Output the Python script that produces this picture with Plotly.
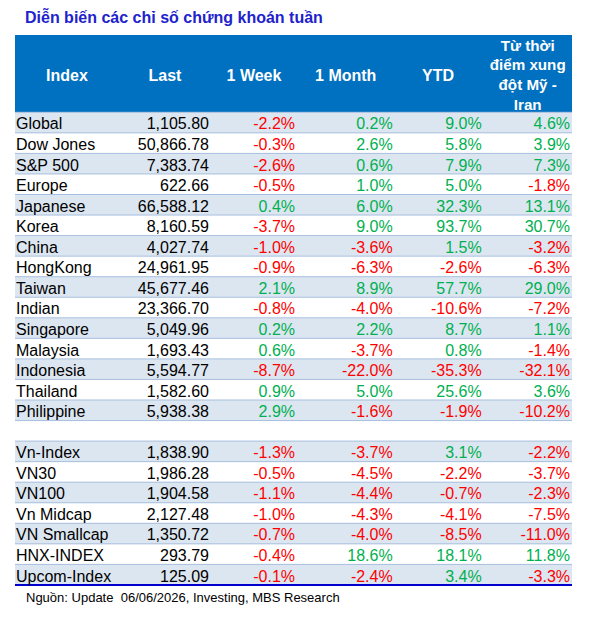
import plotly.graph_objects as go

# ---------------- data ----------------
index_names = ["Global", "Dow Jones", "S&P 500", "Europe", "Japanese", "Korea", "China",
               "HongKong", "Taiwan", "Indian", "Singapore", "Malaysia", "Indonesia",
               "Thailand", "Philippine", "",
               "Vn-Index", "VN30", "VN100", "Vn Midcap", "VN Smallcap", "HNX-INDEX",
               "Upcom-Index"]
last_values = [1105.80, 50866.78, 7383.74, 622.66, 66588.12, 8160.59, 4027.74,
               24961.95, 45677.46, 23366.70, 5049.96, 1693.43, 5594.77,
               1582.60, 5938.38, None,
               1838.90, 1986.28, 1904.58, 2127.48, 1350.72, 293.79, 125.09]
week_pct = [-2.2, -0.3, -2.6, -0.5, 0.4, -3.7, -1.0, -0.9, 2.1, -0.8, 0.2, 0.6, -8.7,
            0.9, 2.9, None,
            -1.3, -0.5, -1.1, -1.0, -0.7, -0.4, -0.1]
month_pct = [0.2, 2.6, 0.6, 1.0, 6.0, 9.0, -3.6, -6.3, 8.9, -4.0, 2.2, -3.7, -22.0,
             5.0, -1.6, None,
             -3.7, -4.5, -4.4, -4.3, -4.0, 18.6, -2.4]
ytd_pct = [9.0, 5.8, 7.9, 5.0, 32.3, 93.7, 1.5, -2.6, 57.7, -10.6, 8.7, 0.8, -35.3,
           25.6, -1.9, None,
           3.1, -2.2, -0.7, -4.1, -8.5, 18.1, 3.4]
conflict_pct = [4.6, 3.9, 7.3, -1.8, 13.1, 30.7, -3.2, -6.3, 29.0, -7.2, 1.1, -1.4, -32.1,
                3.6, -10.2, None,
                -2.2, -3.7, -2.3, -7.5, -11.0, 11.8, -3.3]
headers = ["Index", "Last", "1 Week", "1 Month", "YTD",
           "Từ thời<br>điểm xung<br>đột Mỹ -<br>Iran"]

# ---------------- style / layout constants ----------------
PAGE_W, PAGE_H = 592, 620
OFFSET = 8                           # browser default body margin
W, H = PAGE_W - 2 * OFFSET, PAGE_H - 2 * OFFSET
FONT = "Liberation Sans, Arial, sans-serif"
HEADER_BG = "#0070C0"
STRIPE = "#DCE6F1"
SEP = "#A7BFDE"
RED = "#FF0000"
GREEN = "#00B050"
TABLE_L, TABLE_R = 15, 572          # table left / right edge (page px on the x axis)
TEXT_LEFT = 16                      # left edge of the Index column text
COL_RIGHT = [209, 295, 392.7, 481.7, 570]   # right edge of the numeric column texts
HEAD_CENTER = [67, 165, 254, 345.7, 438, 527.7]
ROW_PX = 20.55                      # one row, in pixels
BODY_TOP_PX = 112.3                 # first body row top, in page pixels
HEADER_TOP_PX = 35
TEXT_DY = 0.64                      # text anchor inside a row (fraction of a row)

n = len(index_names)
header_rows = (BODY_TOP_PX - HEADER_TOP_PX) / ROW_PX
y_top = (OFFSET - BODY_TOP_PX) / ROW_PX
y_bottom = (OFFSET + H - BODY_TOP_PX) / ROW_PX


def fmt_pct(v):
    return "" if v is None else f"{v:.1f}%"


def pct_color(v):
    if v is None:
        return "black"
    return RED if v < 0 else GREEN


fig = go.Figure()

# ---- backgrounds: header band + striped rows as a heatmap of bricks ----
row_kind = [1 if i % 2 == 0 else 0 for i in range(n)]
z = [[2]] + [[k] for k in row_kind]
y_edges = [-header_rows] + list(range(n + 1))
fig.add_trace(go.Heatmap(
    z=z, x=[TABLE_L, TABLE_R], y=y_edges,
    zmin=0, zmax=2,
    colorscale=[[0, "white"], [0.5 - 1e-9, "white"], [0.5, STRIPE], [0.75, STRIPE],
                [0.75 + 1e-9, HEADER_BG], [1, HEADER_BG]],
    showscale=False, hoverinfo="skip", xgap=0, ygap=0,
))

# ---- row separators ----
sep_x, sep_y = [], []
for k in range(n):
    sep_x += [TABLE_L, TABLE_R, None]
    sep_y += [k, k, None]
fig.add_trace(go.Scatter(x=sep_x, y=sep_y, mode="lines",
                         line=dict(color=SEP, width=1), hoverinfo="skip"))
fig.add_trace(go.Scatter(x=[TABLE_L, TABLE_R], y=[n, n], mode="lines",
                         line=dict(color="#0000CC", width=2), hoverinfo="skip"))

# ---- header text ----
head_sizes = [16, 16, 16, 16, 16, 15.2]
fig.add_trace(go.Scatter(
    x=HEAD_CENTER, y=[-header_rows / 2 + 0.14] * 6, mode="text",
    text=[f"<b>{h}</b>" for h in headers], textposition="middle center",
    textfont=dict(family=FONT, size=head_sizes, color="white"), hoverinfo="skip",
))

# ---- body text ----
rows_y = [i + TEXT_DY for i in range(n)]
fig.add_trace(go.Scatter(
    x=[TEXT_LEFT] * n, y=rows_y, mode="text", text=index_names,
    textposition="middle right",
    textfont=dict(family=FONT, size=16, color="black"), hoverinfo="skip",
))
fig.add_trace(go.Scatter(
    x=[COL_RIGHT[0]] * n, y=rows_y, mode="text",
    text=["" if v is None else f"{v:,.2f}" for v in last_values],
    textposition="middle left",
    textfont=dict(family=FONT, size=16, color="black"), hoverinfo="skip",
))
for xr, col in zip(COL_RIGHT[1:], [week_pct, month_pct, ytd_pct, conflict_pct]):
    fig.add_trace(go.Scatter(
        x=[xr] * n, y=rows_y, mode="text",
        text=[fmt_pct(v) for v in col], textposition="middle left",
        textfont=dict(family=FONT, size=16, color=[pct_color(v) for v in col]),
        hoverinfo="skip",
    ))

fig.update_layout(
    width=W, height=H,
    margin=dict(l=0, r=0, t=0, b=0),
    paper_bgcolor="white", plot_bgcolor="white",
    showlegend=False,
    xaxis=dict(range=[OFFSET, OFFSET + W], visible=False, fixedrange=True),
    yaxis=dict(range=[y_bottom, y_top], visible=False, fixedrange=True),
    title=dict(text="<b>Diễn biến các chỉ số chứng khoán tuần</b>",
               x=(25 - OFFSET) / W, xanchor="left", xref="paper",
               y=1 - (17 - OFFSET) / H, yanchor="middle", yref="container",
               font=dict(family=FONT, size=16, color="#2222CC")),
    annotations=[dict(text="Nguồn: Update  06/06/2026, Investing, MBS Research",
                      x=(24 - OFFSET) / W, y=1 - (597 - OFFSET) / H,
                      xref="paper", yref="paper",
                      xanchor="left", yanchor="middle", showarrow=False,
                      font=dict(family=FONT, size=13, color="black"))],
)

fig.write_html("out.html")
